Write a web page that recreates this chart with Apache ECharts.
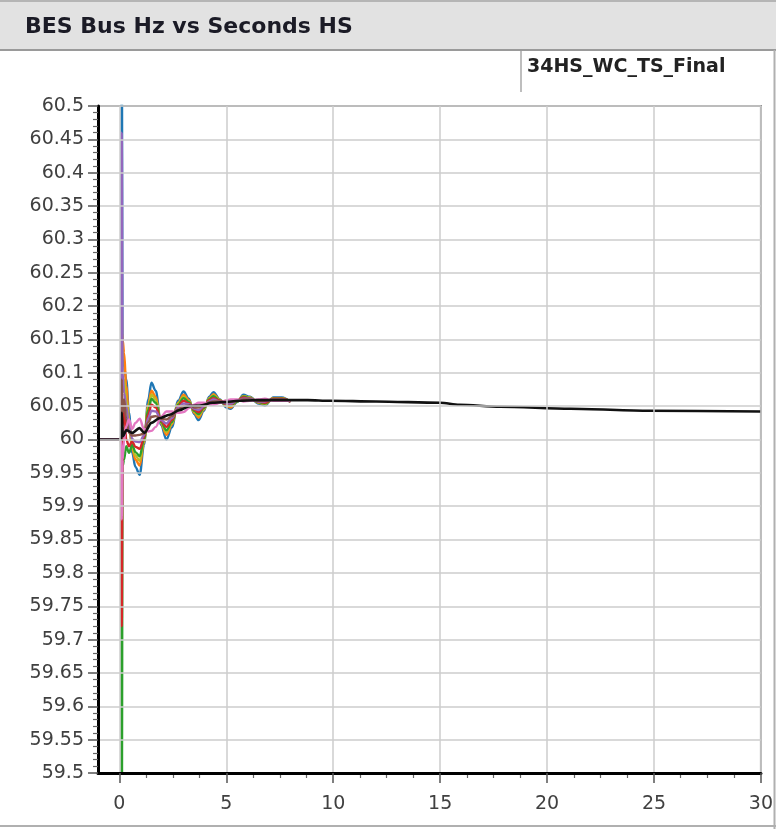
<!DOCTYPE html>
<html>
<head>
<meta charset="utf-8">
<script src="https://cdn.jsdelivr.net/npm/echarts@6/dist/echarts.min.js"></script>
<style>
html,body{margin:0;padding:0;background:#fff;}
#chart{width:776px;height:829px;}
</style>
</head>
<body>
<div id="chart"></div>
<script>
// ---- data ----
const chartTitle = 'BES Bus Hz vs Seconds HS';
const caseName = '34HS_WC_TS_Final';
const xMajorTicks = [0, 5, 10, 15, 20, 25, 30];
const xMinorTicks = [1.25, 2.5, 3.75, 6.25, 7.5, 8.75, 11.25, 12.5, 13.75, 16.25, 17.5, 18.75, 21.25, 22.5, 23.75, 26.25, 27.5, 28.75];

// time stamps (s) for the bus traces
const busTimes = [-1, 0.08, 0.11, 0.15, 0.22, 0.32, 0.45, 0.6, 0.75, 0.95, 1.15, 1.35, 1.5, 1.7, 1.95, 2.2, 2.45, 2.75, 3.0, 3.25, 3.5, 3.7, 3.95, 4.2, 4.4, 4.7, 5.0, 5.2, 5.5, 5.8, 6.1, 6.5, 6.8, 7.2, 7.6, 8.0];

const busBlue   = [60.0, 60.0, 60.62, 60.12, 60.11, 60.09, 60.04, 59.980, 59.959, 59.947, 59.992, 60.060, 60.085, 60.073, 60.022, 60.000, 60.018, 60.058, 60.072, 60.061, 60.038, 60.029, 60.043, 60.064, 60.071, 60.060, 60.048, 60.046, 60.056, 60.067, 60.064, 60.054, 60.051, 60.063, 60.063, 60.056];
const busOrange = [60.0, 60.0, 60.16, 60.15, 60.13, 60.08, 60.03, 59.986, 59.970, 59.961, 59.996, 60.052, 60.073, 60.064, 60.024, 60.007, 60.022, 60.055, 60.067, 60.059, 60.040, 60.033, 60.045, 60.062, 60.068, 60.059, 60.050, 60.048, 60.057, 60.065, 60.063, 60.055, 60.053, 60.062, 60.062, 60.056];
const busGreen  = [60.0, 60.0, 59.38, 59.96, 59.97, 59.99, 59.98, 59.992, 59.981, 59.975, 60.000, 60.044, 60.061, 60.055, 60.026, 60.014, 60.026, 60.052, 60.062, 60.056, 60.043, 60.038, 60.047, 60.060, 60.065, 60.058, 60.052, 60.051, 60.057, 60.064, 60.062, 60.056, 60.054, 60.061, 60.061, 60.057];
const busRed    = [60.0, 60.0, 59.72, 60.02, 60.05, 60.00, 59.99, 59.997, 59.989, 59.986, 60.003, 60.038, 60.052, 60.048, 60.028, 60.019, 60.029, 60.050, 60.058, 60.054, 60.045, 60.041, 60.049, 60.059, 60.062, 60.058, 60.053, 60.053, 60.058, 60.063, 60.061, 60.057, 60.055, 60.061, 60.061, 60.057];
const busPurple = [60.0, 60.0, 60.46, 60.10, 60.07, 60.05, 60.02, 60.001, 59.997, 59.996, 60.006, 60.032, 60.043, 60.042, 60.029, 60.024, 60.032, 60.048, 60.054, 60.053, 60.046, 60.044, 60.050, 60.057, 60.060, 60.057, 60.054, 60.054, 60.058, 60.061, 60.061, 60.057, 60.057, 60.060, 60.060, 60.057];
const busBrown  = [60.0, 60.0, 60.09, 60.04, 60.06, 60.03, 60.01, 60.006, 60.006, 60.007, 60.009, 60.026, 60.034, 60.035, 60.031, 60.030, 60.035, 60.045, 60.050, 60.051, 60.048, 60.048, 60.052, 60.056, 60.057, 60.057, 60.056, 60.056, 60.059, 60.060, 60.060, 60.058, 60.058, 60.060, 60.060, 60.058];
const busPink   = [60.0, 60.0, 59.88, 59.97, 60.00, 60.02, 60.03, 60.016, 60.025, 60.031, 60.016, 60.012, 60.013, 60.019, 60.034, 60.042, 60.042, 60.040, 60.041, 60.047, 60.052, 60.055, 60.055, 60.052, 60.052, 60.055, 60.059, 60.060, 60.060, 60.057, 60.058, 60.060, 60.061, 60.058, 60.058, 60.058];
const busOlive  = [60.0, 60.0, 60.20, 60.07, 60.09, 60.06, 60.03, 59.989, 59.976, 59.968, 59.998, 60.048, 60.067, 60.060, 60.025, 60.011, 60.024, 60.054, 60.064, 60.057, 60.042, 60.036, 60.046, 60.061, 60.066, 60.059, 60.051, 60.050, 60.057, 60.065, 60.063, 60.056, 60.053, 60.062, 60.062, 60.057];

// main (black) trace
const mainTimes  = [-1, 0.08, 0.12, 0.16, 0.33, 0.6, 0.94, 1.17, 1.5, 1.88, 2.34, 2.81, 3.28, 3.75, 4.36, 4.83, 5.6, 6.4, 7.4, 8.8, 9.85, 12, 15, 15.9, 17.8, 21.1, 24.8, 30];
const mainValues = [60.0, 60.0, 60.04, 60.005, 60.014, 60.010, 60.017, 60.010, 60.025, 60.032, 60.037, 60.044, 60.050, 60.051, 60.055, 60.056, 60.058, 60.059, 60.059, 60.059, 60.058, 60.057, 60.055, 60.052, 60.049, 60.046, 60.043, 60.042];

const busSeries = [
  {name: 'Bus A', color: '#1f77b4', values: busBlue},
  {name: 'Bus B', color: '#ff7f0e', values: busOrange},
  {name: 'Bus C', color: '#bcbd22', values: busOlive},
  {name: 'Bus D', color: '#2ca02c', values: busGreen},
  {name: 'Bus E', color: '#d62728', values: busRed},
  {name: 'Bus F', color: '#9467bd', values: busPurple},
  {name: 'Bus G', color: '#8c564b', values: busBrown},
  {name: 'Bus H', color: '#e377c2', values: busPink}
];

const zip = (xs, ys) => xs.map((x, i) => [x, ys[i]]);

const series = busSeries.map(s => ({
  name: s.name,
  type: 'line',
  data: zip(busTimes, s.values),
  showSymbol: false,
  smooth: 0.35,
  smoothMonotone: 'x',
  lineStyle: {color: s.color, width: 2.4},
  itemStyle: {color: s.color},
  silent: true,
  z: 2
}));
series.push({
  name: caseName,
  type: 'line',
  data: zip(mainTimes, mainValues),
  showSymbol: false,
  smooth: 0.3,
  smoothMonotone: 'x',
  lineStyle: {color: '#111111', width: 2.6},
  silent: true,
  z: 3
});

const FONT = 'DejaVu Sans';
const chart = echarts.init(document.getElementById('chart'), null, {renderer: 'canvas'});
chart.setOption({
  animation: false,
  backgroundColor: '#ffffff',
  title: [
    {text: chartTitle, left: 25, top: 16, padding: 0,
     textStyle: {fontFamily: FONT, fontSize: 22, fontWeight: 'bold', color: '#1b1b26'}},
    {text: caseName, left: 527, top: 58, padding: 0,
     textStyle: {fontFamily: FONT, fontSize: 19, fontWeight: 'bold', color: '#222222'}}
  ],
  graphic: [
    {type: 'rect', z: -10, shape: {x: 0, y: 0, width: 776, height: 50}, style: {fill: '#e2e2e2'}},
    {type: 'line', z: -9, shape: {x1: 0, y1: 1, x2: 776, y2: 1}, style: {stroke: '#b5b5b5', lineWidth: 2}},
    {type: 'line', z: -9, shape: {x1: 0, y1: 50, x2: 776, y2: 50}, style: {stroke: '#9a9a9a', lineWidth: 2}},
    {type: 'line', z: -9, shape: {x1: 521, y1: 51, x2: 521, y2: 92}, style: {stroke: '#a8a8a8', lineWidth: 1.5}},
    {type: 'line', z: -9, shape: {x1: 774.5, y1: 50, x2: 774.5, y2: 829}, style: {stroke: '#b0b0b0', lineWidth: 2}},
    {type: 'line', z: -9, shape: {x1: 0, y1: 826, x2: 776, y2: 826}, style: {stroke: '#b0b0b0', lineWidth: 2}}
  ],
  grid: {left: 98, right: 14, top: 106, bottom: 56, show: true, borderColor: '#8c8c8c', borderWidth: 2, backgroundColor: '#ffffff'},
  xAxis: [
    {
      type: 'value', min: -1, max: 30,
      axisLine: {show: true, onZero: false, lineStyle: {color: '#000', width: 3}},
      axisTick: {show: true, customValues: xMajorTicks, length: 10, lineStyle: {color: '#555', width: 1.5}},
      axisLabel: {show: true, customValues: xMajorTicks, margin: 22, fontFamily: FONT, fontSize: 19, color: '#404040'},
      splitLine: {show: true, lineStyle: {color: '#cccccc', width: 1.5}},
      z: 5
    },
    {
      type: 'value', min: -1, max: 30, position: 'bottom',
      axisLine: {show: false, onZero: false},
      axisTick: {show: true, customValues: xMinorTicks, length: 5, lineStyle: {color: '#666', width: 1.2}},
      axisLabel: {show: false},
      splitLine: {show: false}
    }
  ],
  yAxis: {
    type: 'value', min: 59.5, max: 60.5, interval: 0.05,
    axisLine: {show: true, onZero: false, lineStyle: {color: '#000', width: 3}},
    axisTick: {show: true, length: 10, lineStyle: {color: '#555', width: 1.5}},
    minorTick: {show: true, splitNumber: 5, length: 5, lineStyle: {color: '#666', width: 1.2}},
    axisLabel: {margin: 14, fontFamily: FONT, fontSize: 19, color: '#404040',
      formatter: v => String(+v.toFixed(2))},
    splitLine: {show: true, lineStyle: {color: '#cccccc', width: 1.5}},
    z: 5
  },
  series: series
});
</script>
</body>
</html>
